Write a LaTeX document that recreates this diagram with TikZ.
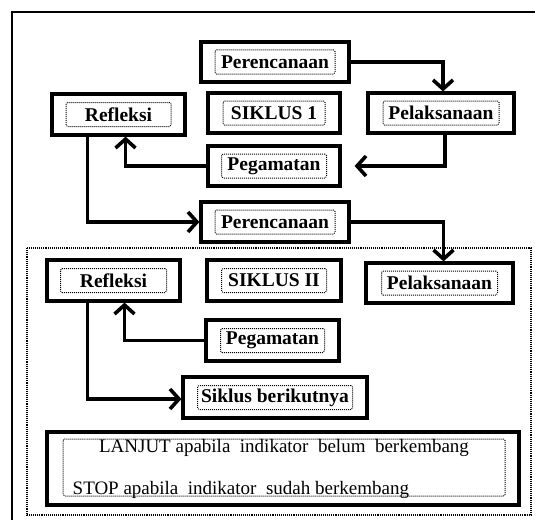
\documentclass[tikz,border=0pt]{standalone}
\usepackage{fontspec}
\setmainfont{Liberation Serif}
\usetikzlibrary{arrows.meta,positioning}

\tikzset{
  kotak/.style={draw, line width=3.2pt, inner sep=0pt},
  isi/.style={draw, densely dotted, line width=1pt, rounded corners=1.5pt, minimum height=24pt,
    inner sep=1pt, font=\fontsize{19.5}{22}\selectfont\bfseries},
  panah/.style={line width=3.6pt, -{Straight Barb[length=9pt,width=20pt]}},
}

\begin{document}
\begin{tikzpicture}[x=1pt, y=-1pt]
  \useasboundingbox (0,0) rectangle (535,519);
  \clip (0,0) rectangle (535,519);
  % bingkai luar
  \draw[line width=2.8pt] (12,12) rectangle (560,540);
  \draw[densely dotted, line width=1.1pt] (27,248) rectangle (531,515);

  % siklus I
  \node[kotak, minimum width=148pt, minimum height=40pt] (ren1) at (275,62) {};
  \node[isi, minimum width=120pt] (ren1t) at (ren1) {Perencanaan};
  \node[kotak, minimum width=133pt, minimum height=41pt] (ref1) at (118.5,114.5) {};
  \node[isi, minimum width=105pt] (ref1t) at (ref1) {Refleksi};
  \node[kotak, minimum width=132pt, minimum height=40pt] (sik1) at (274,113) {};
  \node[isi, minimum width=102pt] (sik1t) at (sik1) {SIKLUS 1};
  \node[kotak, minimum width=146pt, minimum height=40pt] (pel1) at (441,113) {};
  \node[isi, minimum width=116pt] (pel1t) at (pel1) {Pelaksanaan};
  \node[kotak, minimum width=132pt, minimum height=40pt] (pen1) at (274,166) {};
  \node[isi, minimum width=105pt] (pen1t) at (pen1) {Pegamatan};

  % siklus II
  \node[kotak, minimum width=148pt, minimum height=40pt] (ren2) at (275,222) {};
  \node[isi, minimum width=120pt] (ren2t) at (ren2) {Perencanaan};
  \node[kotak, minimum width=133pt, minimum height=41pt] (ref2) at (113.5,280.5) {};
  \node[isi, minimum width=106pt] (ref2t) at (ref2) {Refleksi};
  \node[kotak, minimum width=134pt, minimum height=41pt] (sik2) at (274,280.5) {};
  \node[isi, minimum width=105pt] (sik2t) at (sik2) {SIKLUS II};
  \node[kotak, minimum width=147pt, minimum height=40pt] (pel2) at (439.5,283) {};
  \node[isi, minimum width=116pt] (pel2t) at (pel2) {Pelaksanaan};
  \node[kotak, minimum width=133pt, minimum height=41pt] (pen2) at (272.5,340.5) {};
  \node[isi, minimum width=104pt] (pen2t) at (pen2) {Pegamatan};
  \node[kotak, minimum width=184pt, minimum height=41pt] (berikut) at (275,397.5) {};
  \node[isi, minimum width=155pt] (berikutt) at (berikut) {Siklus berikutnya};

  % keterangan
  \node[kotak, minimum width=472pt, minimum height=73pt] (ket) at (283,468.5) {};
  \node[draw, densely dotted, line width=1pt, rounded corners=1.5pt, minimum width=442pt,
    minimum height=57pt, inner sep=0pt] (kett) at (284,467.5) {};
  \node[anchor=north, inner sep=1pt, font=\fontsize{19}{22}\selectfont] (lanjut) at (kett.north)
    {LANJUT apabila\ \ indikator\ \ belum\ \ berkembang};
  \node[anchor=base west, inner sep=0pt, font=\fontsize{19}{22}\selectfont] (stop)
    at ([xshift=10pt,yshift=2pt]kett.south west) {STOP apabila\ \ indikator\ \ sudah berkembang};

  % panah
  \draw[panah] (ren1.east) -| ([xshift=2pt]pel1.north);
  \draw[panah, shorten >=13pt] ([xshift=4pt]pel1.south) |- (pen1.east);
  \draw[panah] (pen1.west) -| ([xshift=7pt]ref1.south);
  \draw[panah] ([xshift=-31pt]ref1.south) |- (ren2.west);
  \draw[panah] (ren2.east) -| ([xshift=4pt]pel2.north);
  \draw[panah] (pen2.west) -| ([xshift=11pt]ref2.south);
  \draw[panah] ([xshift=-26pt]ref2.south) |- ([yshift=-1.5pt]berikut.west);
\end{tikzpicture}
\end{document}
